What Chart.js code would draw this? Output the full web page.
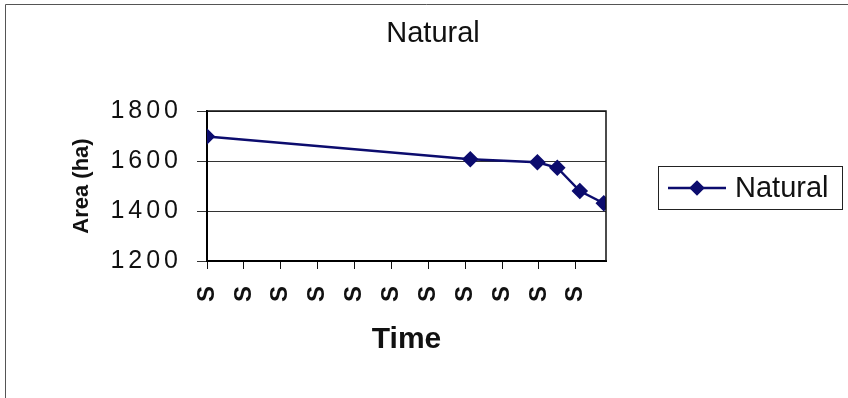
<!DOCTYPE html>
<html>
<head>
<meta charset="utf-8">
<style>
  html, body { margin: 0; padding: 0; background: #fff; }
  canvas { display: block; }
</style>
<script src="https://cdn.jsdelivr.net/npm/chart.js@4"></script>
</head>
<body>
<canvas id="naturalChart" width="848" height="398"></canvas>
<script>
// years from the first survey, one tick per September
const timeYears = [0, 7.14, 8.96, 9.5, 10.11, 10.76];
const areaValues = [1698, 1607, 1595, 1573, 1480, 1431];
const timeLabels = ["S", "S", "S", "S", "S", "S", "S", "S", "S", "S", "S"];
const areaTicks = [1200, 1400, 1600, 1800];

const seriesName = "Natural";
const chartTitle = "Natural";
const lineColor = "#0c0c6e";
const fontFamily = "'Liberation Sans', Arial, sans-serif";

// frame around the figure, title over the whole width, boxed legend on the right
const framePlugin = {
  id: "frame",
  afterDraw(chart) {
    const ctx = chart.ctx;
    const area = chart.chartArea;
    ctx.save();

    ctx.strokeStyle = "#555";
    ctx.lineWidth = 1;
    ctx.beginPath();
    ctx.moveTo(5.5, 398);
    ctx.lineTo(5.5, 4.5);
    ctx.lineTo(848, 4.5);
    ctx.stroke();

    // top and right edge of the plot area
    ctx.strokeStyle = "#111";
    ctx.lineWidth = 1.5;
    ctx.beginPath();
    ctx.moveTo(area.left, area.top);
    ctx.lineTo(area.right, area.top);
    ctx.lineTo(area.right, area.bottom);
    ctx.stroke();

    ctx.fillStyle = "#111";
    ctx.font = "29px " + fontFamily;
    ctx.textBaseline = "middle";
    ctx.textAlign = "center";
    ctx.fillText(chartTitle, 433, 34);

    // legend
    ctx.strokeStyle = "#222";
    ctx.lineWidth = 1;
    ctx.strokeRect(658.5, 166.5, 184, 43);
    ctx.strokeStyle = lineColor;
    ctx.lineWidth = 2.5;
    ctx.beginPath();
    ctx.moveTo(668, 188);
    ctx.lineTo(726, 188);
    ctx.stroke();
    ctx.fillStyle = lineColor;
    Chart.helpers.drawPoint(ctx, { pointStyle: "rectRot", radius: 6, borderWidth: 1 }, 697, 188);
    ctx.fillStyle = "#111";
    ctx.textAlign = "left";
    ctx.fillText(seriesName, 735, 189);

    ctx.restore();
  }
};

// the value labels on the area axis are set wide
const wideTicksPlugin = {
  id: "wideTicks",
  afterLayout(chart) {
    const scale = chart.scales.y;
    if (scale._wideWrapped) return;
    const draw = scale.drawLabels;
    scale.drawLabels = function (area) {
      const ctx = this.ctx;
      ctx.save();
      ctx.letterSpacing = "4px";
      draw.call(this, area);
      ctx.restore();
    };
    scale._wideWrapped = true;
  }
};

new Chart(document.querySelector("#naturalChart"), {
  type: "line",
  data: {
    datasets: [
      {
        label: seriesName,
        data: timeYears.map((t, i) => ({ x: t, y: areaValues[i] })),
        borderColor: lineColor,
        backgroundColor: lineColor,
        borderWidth: 2.5,
        pointStyle: "rectRot",
        pointRadius: 6.5,
        pointBackgroundColor: lineColor,
        pointBorderColor: lineColor,
        tension: 0
      }
    ]
  },
  options: {
    responsive: false,
    animation: false,
    layout: {
      padding: { left: 0, right: 242, top: 111, bottom: 0 }
    },
    scales: {
      x: {
        type: "linear",
        min: 0,
        max: 10.82,
        afterBuildTicks(scale) {
          scale.ticks = timeLabels.map((_, i) => ({ value: i }));
        },
        afterFit(scale) {
          scale.height = 137;
        },
        ticks: {
          autoSkip: false,
          minRotation: 90,
          maxRotation: 90,
          padding: 17,
          color: "#111",
          font: { family: fontFamily, size: 24, weight: "bold" },
          callback: (value, index) => timeLabels[index]
        },
        grid: {
          drawOnChartArea: false,
          drawTicks: true,
          tickLength: 8,
          color: "#111",
          lineWidth: 1
        },
        border: { color: "#000", width: 2 },
        title: {
          display: true,
          text: "Time",
          color: "#111",
          font: { family: fontFamily, size: 30, weight: "bold" },
          padding: { top: 0, bottom: 40 }
        }
      },
      y: {
        min: 1200,
        max: 1800,
        afterBuildTicks(scale) {
          scale.ticks = areaTicks.map((v) => ({ value: v }));
        },
        afterFit(scale) {
          scale.width = 207;
        },
        ticks: {
          padding: 15,
          color: "#111",
          font: { family: fontFamily, size: 25 },
          callback: (value) => String(value)
        },
        grid: {
          color: "#333",
          lineWidth: 1,
          tickLength: 10
        },
        border: { color: "#000", width: 2 },
        title: {
          display: true,
          text: "Area (ha)",
          color: "#111",
          font: { family: fontFamily, size: 22, weight: "bold" },
          padding: { top: 69, bottom: 0 }
        }
      }
    },
    plugins: {
      legend: { display: false },
      tooltip: { enabled: false },
      title: { display: false }
    }
  },
  plugins: [framePlugin, wideTicksPlugin]
});
</script>
</body>
</html>
